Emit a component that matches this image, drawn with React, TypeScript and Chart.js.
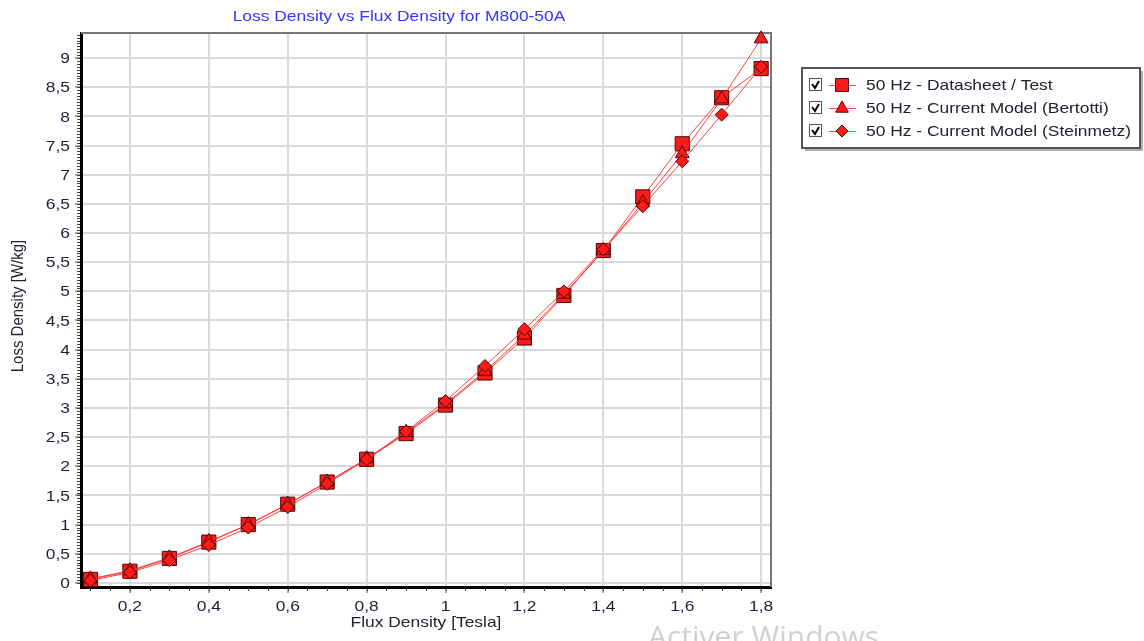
import React, { useEffect, useRef } from "react";
import { Chart, registerables } from "chart.js";

Chart.register(...registerables);

const fluxDensity = [0.1, 0.2, 0.3, 0.4, 0.5, 0.6, 0.7, 0.8, 0.9, 1.0, 1.1, 1.2, 1.3, 1.4, 1.5, 1.6, 1.7, 1.8];
const datasheetTest = [0.06, 0.2, 0.42, 0.7, 1.0, 1.35, 1.73, 2.12, 2.56, 3.05, 3.6, 4.2, 4.93, 5.7, 6.62, 7.53, 8.32, 8.82];
const bertotti = [0.07, 0.21, 0.43, 0.71, 1.0, 1.35, 1.73, 2.13, 2.58, 3.07, 3.63, 4.25, 4.95, 5.7, 6.52, 7.36, 8.3, 9.33];
const steinmetz = [0.04, 0.18, 0.39, 0.65, 0.95, 1.3, 1.7, 2.12, 2.6, 3.12, 3.72, 4.35, 5.0, 5.72, 6.46, 7.23, 8.03, 8.85];

const xTicks = [0.2, 0.4, 0.6, 0.8, 1.0, 1.2, 1.4, 1.6, 1.8];
const yTicks = [0, 0.5, 1, 1.5, 2, 2.5, 3, 3.5, 4, 4.5, 5, 5.5, 6, 6.5, 7, 7.5, 8, 8.5, 9];

const seriesLabels = [
  "50 Hz - Datasheet / Test",
  "50 Hz - Current Model (Bertotti)",
  "50 Hz - Current Model (Steinmetz)",
];
const titleText = "Loss Density vs Flux Density for M800-50A";
const xTitle = "Flux Density [Tesla]";
const yTitle = "Loss Density [W/kg]";

const FONT = "'Liberation Sans', Arial, sans-serif";
const SX = 1.16;
const RED = "#ff1a1a";
const LINE = "rgba(255,45,45,0.9)";
const EDGE = "#4a0a0a";
const TICK_COLOR = "#1e1e3c";

const fmt = (v: number) => String(Number(v.toFixed(2))).replace(".", ",");

const pointStyles = ["rect", "triangle", "rectRot"];
const pointRadii = [10, 8, 6.5];

function drawText(ctx: any, text: string, x: number, y: number, align: string, font: string, color: string) {
  ctx.save();
  ctx.translate(x, y);
  ctx.scale(SX, 1);
  ctx.font = font;
  ctx.fillStyle = color;
  ctx.textAlign = align;
  ctx.textBaseline = "middle";
  ctx.fillText(text, 0, 0);
  ctx.restore();
}

const decorPlugin = {
  id: "decor",
  beforeDatasetsDraw(chart: any) {
    const { ctx, chartArea: a } = chart;
    ctx.save();
    ctx.strokeStyle = "#777";
    ctx.lineWidth = 2;
    ctx.beginPath();
    ctx.moveTo(a.left, a.top);
    ctx.lineTo(a.right, a.top);
    ctx.lineTo(a.right, a.bottom);
    ctx.stroke();
    ctx.restore();
  },
  afterDraw(chart: any) {
    const { ctx, chartArea: a, scales } = chart;
    const xs = scales.x;
    const ys = scales.y;
    ctx.save();
    // minor ticks
    ctx.strokeStyle = "#444";
    ctx.lineWidth = 1;
    ctx.beginPath();
    for (let i = 0; i <= 190; i++) {
      const v = i * 0.05;
      if (v < ys.min || v > ys.max) continue;
      const py = Math.round(ys.getPixelForValue(v)) + 0.5;
      ctx.moveTo(a.left - 4, py);
      ctx.lineTo(a.left - 1, py);
    }
    for (let i = 0; i <= 40; i++) {
      const v = i * 0.05;
      if (v < xs.min || v > xs.max) continue;
      const px = Math.round(xs.getPixelForValue(v)) + 0.5;
      ctx.moveTo(px, a.bottom + 1);
      ctx.lineTo(px, a.bottom + 4);
    }
    ctx.stroke();

    // tick labels
    yTicks.forEach((v) => {
      drawText(ctx, fmt(v), 70, ys.getPixelForValue(v) + 1, "right", `15px ${FONT}`, TICK_COLOR);
    });
    xTicks.forEach((v) => {
      drawText(ctx, fmt(v), xs.getPixelForValue(v), 607, "center", `15px ${FONT}`, TICK_COLOR);
    });

    // title
    drawText(ctx, titleText, 399, 17, "center", `15px ${FONT}`, "#3434ff");

    // axis titles
    drawText(ctx, xTitle, (a.left + a.right) / 2, 623, "center", `15px ${FONT}`, "#222230");
    ctx.save();
    ctx.translate(18, 306);
    ctx.rotate(-Math.PI / 2);
    ctx.scale(1, SX);
    ctx.font = `15px ${FONT}`;
    ctx.fillStyle = "#222230";
    ctx.textAlign = "center";
    ctx.textBaseline = "middle";
    ctx.fillText(yTitle, 0, 0);
    ctx.restore();

    // legend
    const lx = 802, ly = 68, lw = 338, lh = 80;
    ctx.fillStyle = "#b0b0b0";
    ctx.fillRect(lx + 3, ly + 3, lw, lh);
    ctx.fillStyle = "#fff";
    ctx.fillRect(lx, ly, lw, lh);
    ctx.strokeStyle = "#555";
    ctx.lineWidth = 2;
    ctx.strokeRect(lx, ly, lw, lh);
    const rows = [85, 108, 131];
    rows.forEach((ry, i) => {
      ctx.fillStyle = "#fff";
      ctx.fillRect(809, ry - 6, 12, 12);
      ctx.strokeStyle = "#555";
      ctx.lineWidth = 1;
      ctx.strokeRect(809.5, ry - 6.5, 12, 12);
      ctx.strokeStyle = "#000";
      ctx.lineWidth = 2;
      ctx.beginPath();
      ctx.moveTo(812, ry - 1);
      ctx.lineTo(815, ry + 3);
      ctx.lineTo(819, ry - 4);
      ctx.stroke();
      ctx.strokeStyle = LINE;
      ctx.lineWidth = 1;
      ctx.beginPath();
      ctx.moveTo(829, ry + 0.5);
      ctx.lineTo(856, ry + 0.5);
      ctx.stroke();
      ctx.fillStyle = RED;
      ctx.strokeStyle = EDGE;
      ctx.lineWidth = 1;
      const style = pointStyles[i];
      const r = i === 1 ? 7 : 6;
      ctx.beginPath();
      if (style === "rect") {
        ctx.rect(842 - 6.5, ry - 6.5, 13, 13);
      } else if (style === "triangle") {
        ctx.moveTo(842, ry - r);
        ctx.lineTo(842 + r * 0.9, ry + r * 0.6);
        ctx.lineTo(842 - r * 0.9, ry + r * 0.6);
        ctx.closePath();
      } else {
        ctx.moveTo(842, ry - r);
        ctx.lineTo(842 + r, ry);
        ctx.lineTo(842, ry + r);
        ctx.lineTo(842 - r, ry);
        ctx.closePath();
      }
      ctx.fill();
      ctx.stroke();
      drawText(ctx, seriesLabels[i], 866, ry + 1, "left", `15px ${FONT}`, "#202030");
    });

    // watermark
    ctx.fillStyle = "rgba(170,170,170,0.55)";
    ctx.font = `30px 'Open Sans', sans-serif`;
    ctx.textAlign = "left";
    ctx.textBaseline = "alphabetic";
    ctx.fillText("Activer Windows", 648, 647);
    ctx.restore();
  },
};

export default function App() {
  const ref = useRef<HTMLCanvasElement | null>(null);
  useEffect(() => {
    document.body.style.margin = "0";
    const canvas = ref.current!;
    const data = [datasheetTest, bertotti, steinmetz];
    const chart = new Chart(canvas, {
      type: "line",
      data: {
        datasets: data.map((vals, i) => ({
          label: seriesLabels[i],
          data: fluxDensity.map((x, j) => ({ x, y: vals[j] })),
          borderColor: LINE,
          borderWidth: 1,
          backgroundColor: RED,
          pointBackgroundColor: RED,
          pointBorderColor: EDGE,
          pointBorderWidth: 1,
          pointStyle: pointStyles[i] as any,
          pointRadius: pointRadii[i],
          tension: 0,
          order: 3 - i,
          clip: false as any,
        })),
      },
      options: {
        responsive: false,
        animation: false,
        events: [],
        layout: { padding: { left: 0, top: 33, right: 373, bottom: 0 } },
        plugins: { legend: { display: false }, title: { display: false }, tooltip: { enabled: false } },
        scales: {
          x: {
            type: "linear",
            min: 0.076,
            max: 1.825,
            afterFit: (s: any) => { s.height = 54; },
            afterBuildTicks: (s: any) => { s.ticks = xTicks.map((v) => ({ value: v })); },
            ticks: { display: false, autoSkip: false },
            grid: { color: "#d9d9d9", lineWidth: 2, tickColor: "#555", tickLength: 6, tickWidth: 1 },
            border: { color: "#000", width: 3 },
          },
          y: {
            type: "linear",
            min: -0.07,
            max: 9.43,
            afterFit: (s: any) => { s.width = 81; },
            afterBuildTicks: (s: any) => { s.ticks = yTicks.map((v) => ({ value: v })); },
            ticks: { display: false, autoSkip: false },
            grid: { color: "#d9d9d9", lineWidth: 2, tickColor: "#555", tickLength: 6, tickWidth: 1 },
            border: { color: "#000", width: 3 },
          },
        },
      },
      plugins: [decorPlugin],
    });
    return () => chart.destroy();
  }, []);
  return (
    <div style={{ position: "fixed", left: 0, top: 0, width: 1144, height: 641, background: "#fff" }}>
      <canvas ref={ref} width={1144} height={641} />
    </div>
  );
}
